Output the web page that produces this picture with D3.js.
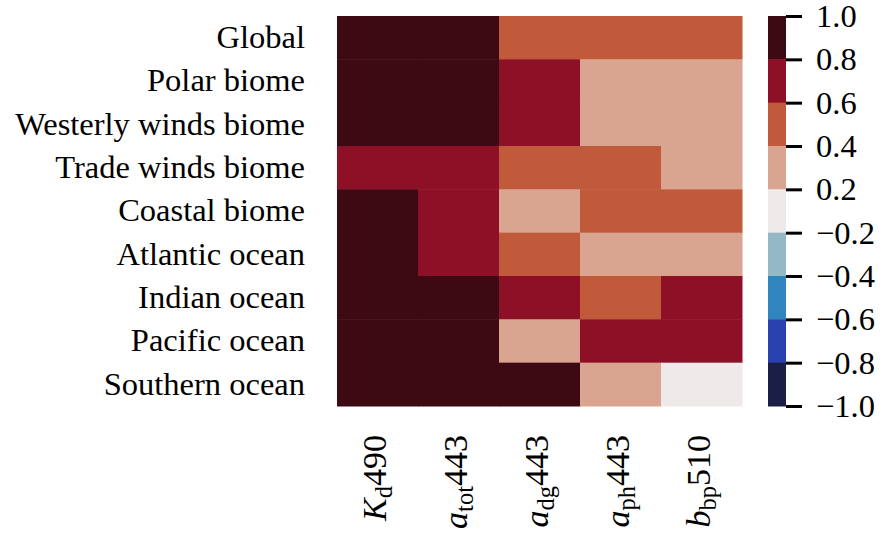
<!DOCTYPE html>
<html lang="en">
<head>
<meta charset="utf-8">
<script src="https://d3js.org/d3.v7.min.js"></script>
<style>
  body { margin: 0; background: #fff; }
</style>
</head>
<body>
<script>
// regions (rows) and variables (columns)
var regions = ["Global", "Polar biome", "Westerly winds biome", "Trade winds biome",
  "Coastal biome", "Atlantic ocean", "Indian ocean", "Pacific ocean", "Southern ocean"];
var variables = ["Kd490", "atot443", "adg443", "aph443", "bbp510"];
var varMain = ["K", "a", "a", "a", "b"];
var varSub = ["d", "tot", "dg", "ph", "bp"];
var varTail = ["490", "443", "443", "443", "510"];

// correlation per region, one value per variable (binned colours in the original)
var corrGlobal   = [0.9, 0.9, 0.5, 0.5, 0.5];
var corrPolar    = [0.9, 0.9, 0.7, 0.3, 0.3];
var corrWesterly = [0.9, 0.9, 0.7, 0.3, 0.3];
var corrTrade    = [0.7, 0.7, 0.5, 0.5, 0.3];
var corrCoastal  = [0.9, 0.7, 0.3, 0.5, 0.5];
var corrAtlantic = [0.9, 0.7, 0.5, 0.3, 0.3];
var corrIndian   = [0.9, 0.9, 0.7, 0.5, 0.7];
var corrPacific  = [0.9, 0.9, 0.3, 0.7, 0.7];
var corrSouthern = [0.9, 0.9, 0.9, 0.3, 0.1];
var corrRows = [corrGlobal, corrPolar, corrWesterly, corrTrade, corrCoastal,
  corrAtlantic, corrIndian, corrPacific, corrSouthern];

// colour bar
var binEdges = [-0.8, -0.6, -0.4, -0.2, 0.2, 0.4, 0.6, 0.8];
var binColors = ["#1b1f47", "#2a42b0", "#2f86bf", "#94b8c6", "#eeeae9",
  "#d9a591", "#c05a3b", "#8e1027", "#3d0a14"];
var barTicks = ["1.0", "0.8", "0.6", "0.4", "0.2", "\u22120.2", "\u22120.4", "\u22120.6", "\u22120.8", "\u22121.0"];

var width = 886, height = 535;
var mapL = 337, mapR = 742, mapT = 16, mapB = 406;

var svg = d3.select("body").append("svg")
  .attr("width", width)
  .attr("height", height);

var x = d3.scaleBand().domain(variables).range([mapL, mapR]);
var y = d3.scaleBand().domain(regions).range([mapT, mapB]);
var color = d3.scaleThreshold().domain(binEdges).range(binColors);

var cells = [];
regions.forEach(function(r, i) {
  variables.forEach(function(v, j) {
    cells.push({ region: r, variable: v, value: corrRows[i][j] });
  });
});

svg.append("g").selectAll("rect")
  .data(cells)
  .enter().append("rect")
  .attr("x", function(d) { return x(d.variable); })
  .attr("y", function(d) { return y(d.region); })
  .attr("width", x.bandwidth() + 0.5)
  .attr("height", y.bandwidth() + 0.5)
  .attr("fill", function(d) { return color(d.value); });

// row labels
var yAxis = svg.append("g")
  .attr("transform", "translate(" + mapL + ",0)")
  .call(d3.axisLeft(y).tickSize(0).tickPadding(32))
  .attr("font-family", null)
  .attr("font-size", null);
yAxis.select(".domain").remove();
yAxis.selectAll("text")
  .style("font-family", "'Liberation Serif'")
  .style("font-size", "32.5px")
  .attr("fill", "#000");

// column labels, rotated
var colLabel = svg.append("g").selectAll("text")
  .data(variables)
  .enter().append("text")
  .attr("transform", function(d) {
    return "translate(" + (x(d) + x.bandwidth() / 2) + "," + 435 + ") rotate(-90)";
  })
  .attr("text-anchor", "end")
  .attr("dy", "0.25em")
  .style("font-family", "'Liberation Serif'")
  .style("font-size", "34px");
colLabel.append("tspan")
  .style("font-style", "italic")
  .text(function(d, i) { return varMain[i]; });
colLabel.append("tspan")
  .style("font-size", "24.5px")
  .attr("dy", 6)
  .text(function(d, i) { return varSub[i]; });
colLabel.append("tspan")
  .attr("dy", -6)
  .text(function(d, i) { return varTail[i]; });

// colour bar
var barL = 768, barR = 786;
var yBar = d3.scalePoint().domain(barTicks).range([mapT, mapB]);
var bins = barTicks.slice(0, -1).map(function(t, i) {
  return { from: t, to: barTicks[i + 1], color: binColors[binColors.length - 1 - i] };
});
svg.append("g").selectAll("rect")
  .data(bins)
  .enter().append("rect")
  .attr("x", barL)
  .attr("y", function(d) { return yBar(d.from); })
  .attr("width", barR - barL)
  .attr("height", function(d) { return yBar(d.to) - yBar(d.from) + 0.5; })
  .attr("fill", function(d) { return d.color; });

var barAxis = svg.append("g")
  .attr("transform", "translate(" + barR + ",0)")
  .call(d3.axisRight(yBar).tickSize(16).tickPadding(14))
  .attr("font-family", null)
  .attr("font-size", null);
barAxis.select(".domain").remove();
barAxis.selectAll("line").attr("stroke", "#000").attr("stroke-width", 3);
barAxis.selectAll("text")
  .style("font-family", "'Liberation Serif'")
  .style("font-size", "32.5px")
  .attr("fill", "#000");
</script>
</body>
</html>
